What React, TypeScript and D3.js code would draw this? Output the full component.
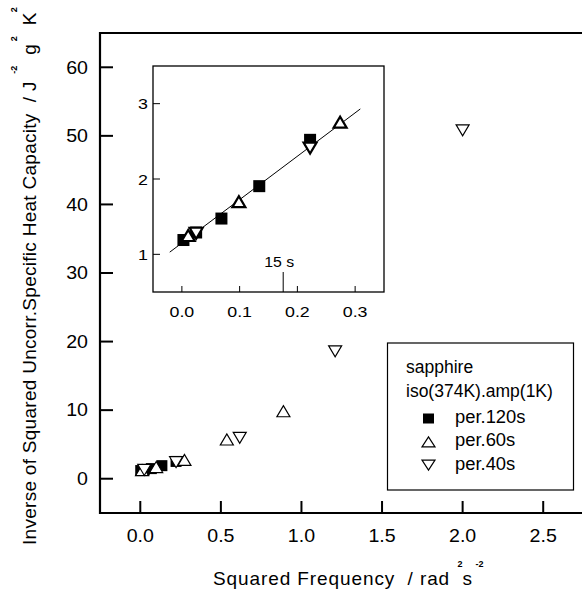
import React from "react";
import * as d3 from "d3";

// ---- data ----
const per120X = [0.0027, 0.0247, 0.0685, 0.134, 0.222];
const per120Y = [1.19, 1.29, 1.475, 1.905, 2.52];
const per60X = [0.011, 0.0987, 0.274, 0.537, 0.888];
const per60Y = [1.25, 1.7, 2.755, 5.72, 9.84];
const per40X = [0.0247, 0.222, 0.617, 1.209, 2.0];
const per40Y = [1.28, 2.41, 5.96, 18.57, 50.8];

const mainXTicks = [0, 0.5, 1.0, 1.5, 2.0, 2.5];
const mainYTicks = [0, 10, 20, 30, 40, 50, 60];
const insetXTicks = [0, 0.1, 0.2, 0.3];
const insetYTicks = [1, 2, 3];

const fitX = [-0.021, 0.309];
const fitIntercept = 1.15;
const fitSlope = 5.76;
const marker15s = (2 * Math.PI / 15) ** 2;

const legendTitle = ["sapphire", "iso(374K).amp(1K)"];
const legendItems = ["per.120s", "per.60s", "per.40s"];

const FONT = "'Liberation Sans', Arial, Helvetica, sans-serif";

function tri(w: number, h: number, up: boolean) {
  const s = up ? 1 : -1;
  return `M${-w / 2},${(s * h) / 2}L${w / 2},${(s * h) / 2}L0,${(-s * h) / 2}Z`;
}

function T(props: any) {
  const { x, y, sx = 1, children, ...rest } = props;
  return (
    <text transform={`translate(${x},${y}) scale(${sx},1)`} {...rest}>
      {children}
    </text>
  );
}

export default function App() {
  const W = 582, H = 589;
  // main scales
  const x = d3.scaleLinear().domain([-0.25, 2.75]).range([100, 583.5]);
  const y = d3.scaleLinear().domain([-5, 65]).range([513, 33]);
  // inset scales
  const ix = d3.scaleLinear().domain([-0.05, 0.35]).range([153, 384]);
  const iy = d3.scaleLinear().domain([0.5, 3.5]).range([292, 66]);

  const zip = (xs: number[], ys: number[]) => xs.map((v, i) => [v, ys[i]] as [number, number]);
  const s120 = zip(per120X, per120Y);
  const s60 = zip(per60X, per60Y);
  const s40 = zip(per40X, per40Y);

  const inInset = (p: [number, number]) =>
    p[0] >= -0.05 && p[0] <= 0.35 && p[1] >= 0.5 && p[1] <= 3.5;

  const fitLine = d3
    .line<number>()
    .x((v) => ix(v))
    .y((v) => iy(fitIntercept + fitSlope * v));

  const sup = { fontSize: 9, fontWeight: "bold" as const, letterSpacing: 0 };

  return (
    <svg width={W} height={H} style={{ position: "absolute", left: 0, top: 0, background: "#fff" }} fontFamily={FONT}>
      <rect x={0} y={0} width={W} height={H} fill="#fff" />
      <defs>
        <clipPath id="mainClip">
          <rect x={100} y={33} width={483.5} height={480} />
        </clipPath>
      </defs>

      {/* main frame */}
      <line x1={100} x2={W} y1={33} y2={33} stroke="#000" strokeWidth={2.2} />
      <line x1={100} x2={W} y1={513} y2={513} stroke="#000" strokeWidth={2.2} />
      <line x1={100} x2={100} y1={32} y2={514} stroke="#000" strokeWidth={2.2} />

      {/* main y ticks */}
      {mainYTicks.map((t) => (
        <g key={"my" + t}>
          <line x1={100} x2={113} y1={y(t)} y2={y(t)} stroke="#000" strokeWidth={2} />
          <T x={88} y={y(t)} sx={1.12} dy="0.36em" textAnchor="end" fontSize={17.5}>
            {t}
          </T>
        </g>
      ))}
      {/* main x ticks */}
      {mainXTicks.map((t) => (
        <g key={"mx" + t}>
          <line x1={x(t)} x2={x(t)} y1={513} y2={501} stroke="#000" strokeWidth={2} />
          <T x={x(t)} y={542} sx={1.12} textAnchor="middle" fontSize={17.5}>
            {t.toFixed(1)}
          </T>
        </g>
      ))}

      {/* axis titles */}
      <text transform="translate(36,545) rotate(-90)" textAnchor="start" fontSize={19} letterSpacing={0.28}>
        Inverse of Squared Uncorr.Specific Heat Capacity{"\u00a0\u00a0"}/ J
        <tspan dy={-19} {...sup}>{"\u00a0\u00a0\u00a0-2"}</tspan>
        <tspan dy={19}>{"\u00a0\u00a0g"}</tspan>
        <tspan dy={-19} {...sup}>{"\u00a02"}</tspan>
        <tspan dy={19}>{"\u00a0\u00a0K"}</tspan>
        <tspan dy={-19} {...sup}>{"2"}</tspan>
      </text>
      <text x={213} y={585} textAnchor="start" fontSize={19} letterSpacing={0.9}>
        Squared Frequency{"\u00a0\u00a0"}/ rad
        <tspan dy={-18} {...sup}>{"\u00a0\u00a0\u00a02"}</tspan>
        <tspan dy={18}>{"s"}</tspan>
        <tspan dy={-18} {...sup}>{"\u00a0-2"}</tspan>
      </text>

      {/* main points */}
      <g clipPath="url(#mainClip)">
        {s120.map((p, i) => (
          <rect key={"m120" + i} x={x(p[0]) - 5.5} y={y(p[1]) - 5.5} width={11} height={11} fill="#000" />
        ))}
        {s60.map((p, i) => (
          <path key={"m60" + i} d={tri(13, 11, true)} transform={`translate(${x(p[0])},${y(p[1])})`} fill="#fff" stroke="#000" strokeWidth={1.2} />
        ))}
        {s40.map((p, i) => (
          <path key={"m40" + i} d={tri(13, 11, false)} transform={`translate(${x(p[0])},${y(p[1])})`} fill="#fff" stroke="#000" strokeWidth={1.2} />
        ))}
      </g>

      {/* inset */}
      <rect x={153} y={66} width={231} height={226} fill="#fff" stroke="#000" strokeWidth={1.3} />
      {insetYTicks.map((t) => (
        <g key={"iy" + t}>
          <line x1={153} x2={160} y1={iy(t)} y2={iy(t)} stroke="#000" strokeWidth={1} />
          <T x={148} y={iy(t)} sx={1.15} dy="0.36em" textAnchor="end" fontSize={15.5}>
            {t}
          </T>
        </g>
      ))}
      {insetXTicks.map((t) => (
        <g key={"ix" + t}>
          <line x1={ix(t)} x2={ix(t)} y1={292} y2={286} stroke="#000" strokeWidth={1} />
          <T x={ix(t)} y={316.5} sx={1.15} textAnchor="middle" fontSize={15.5}>
            {t.toFixed(1)}
          </T>
        </g>
      ))}
      <line x1={ix(marker15s)} x2={ix(marker15s)} y1={272} y2={292} stroke="#000" strokeWidth={1} />
      <T x={ix(marker15s) - 4} y={266.5} sx={1.06} textAnchor="middle" fontSize={15}>
        15 s
      </T>
      <path d={fitLine(fitX) || ""} fill="none" stroke="#000" strokeWidth={1} />
      {s120.filter(inInset).map((p, i) => (
        <rect key={"i120" + i} x={ix(p[0]) - 6} y={iy(p[1]) - 6} width={12} height={12} fill="#000" />
      ))}
      {s60.filter(inInset).map((p, i) => (
        <path key={"i60" + i} d={tri(13, 11, true)} transform={`translate(${ix(p[0])},${iy(p[1])})`} fill="#fff" stroke="#000" strokeWidth={2.2} />
      ))}
      {s40.filter(inInset).map((p, i) => (
        <path key={"i40" + i} d={tri(13, 11, false)} transform={`translate(${ix(p[0])},${iy(p[1])})`} fill="#fff" stroke="#000" strokeWidth={2.2} />
      ))}

      {/* legend */}
      <rect x={387.5} y={343} width={186} height={147} fill="#fff" stroke="#000" strokeWidth={1.2} />
      {legendTitle.map((t, i) => (
        <T key={"lt" + i} x={406} y={373 + i * 24} sx={1.0} fontSize={17.5}>
          {t}
        </T>
      ))}
      {legendItems.map((t, i) => {
        const cy = 418.5 + i * 23.3;
        return (
          <g key={"li" + i}>
            {i === 0 ? (
              <rect x={428.5 - 5.5} y={cy - 5} width={11} height={10} fill="#000" />
            ) : (
              <path d={tri(13, 10, i === 1)} transform={`translate(${428.5},${cy})`} fill="#fff" stroke="#000" strokeWidth={1.2} />
            )}
            <T x={455} y={cy + 4.5} sx={1.05} fontSize={17.5}>
              {t}
            </T>
          </g>
        );
      })}
    </svg>
  );
}
